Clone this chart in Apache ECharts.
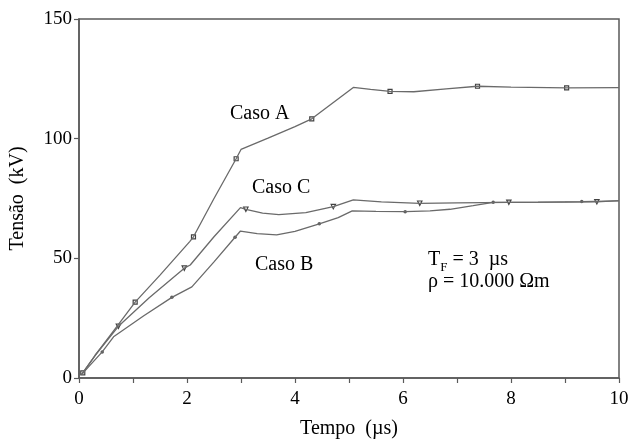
<!DOCTYPE html>
<html>
<head>
    <meta charset='utf-8' />
    <title>Tensão x Tempo</title>
</head>
<body style='margin:0;width: 632px;height:441px;background:#fff;'>
<div id='chart' style='width:632px;height: 441px;'></div>

<script src="https://cdn.jsdelivr.net/npm/echarts@6/dist/echarts.min.js"></script>
<script type='text/javascript'>
    // curva Caso A
    var tA = [0.05, 0.3, 0.7, 1.04, 1.5, 2.05, 2.12, 2.5, 2.91, 3.0, 3.5, 4.0, 4.31, 5.08, 5.4, 5.76, 6.2, 6.8, 7.38, 8.0, 9.03, 10];
    var vA = [1.5, 9.5, 21.5, 31.7, 43, 57, 59, 75, 91.6, 95.5, 100.2, 105, 108.3, 121.4, 120.6, 119.8, 119.6, 120.8, 121.9, 121.5, 121.2, 121.3];
    // curva Caso B
    var tB = [0.05, 0.43, 0.64, 1.2, 1.72, 2.09, 2.5, 2.89, 2.99, 3.3, 3.66, 4.0, 4.45, 4.8, 5.06, 5.5, 6.04, 6.5, 6.87, 7.3, 7.67, 8.5, 9.31, 10];
    var vB = [1.5, 10.9, 17.2, 26, 33.7, 38.1, 48.5, 58.8, 61.4, 60.3, 59.8, 61.3, 64.4, 67, 69.8, 69.6, 69.5, 69.8, 70.5, 72, 73.4, 73.5, 73.7, 74];
    // curva Caso C
    var tC = [0.05, 0.3, 0.73, 1.3, 1.95, 2.06, 2.5, 2.99, 3.09, 3.4, 3.7, 4.2, 4.71, 5.08, 5.6, 6.31, 7.0, 7.96, 9.0, 9.59, 10];
    var vC = [1.5, 9.5, 21.6, 33.5, 45.9, 47.2, 59, 71.2, 70.5, 68.9, 68.3, 69.1, 71.6, 74.4, 73.6, 73.0, 73.2, 73.4, 73.5, 73.6, 74.1];

    // marcadores
    var mkA_t = [0.07, 1.04, 2.12, 2.91, 4.31, 5.76, 7.38, 9.03];
    var mkA_v = [2.1, 31.7, 59, 91.6, 108.3, 119.8, 121.9, 121.2];
    var mkB_t = [0.43, 1.72, 2.89, 4.45, 6.04, 7.67, 9.31];
    var mkB_v = [10.9, 33.7, 58.8, 64.4, 69.5, 73.4, 73.7];
    var mkC_t = [0.73, 1.95, 3.09, 4.71, 6.31, 7.96, 9.59];
    var mkC_v = [21.6, 45.9, 70.5, 71.6, 73.0, 73.4, 73.6];

    function pares(t, v) {
        return t.map(function (x, i) { return [x, v[i]]; });
    }

    var fonte = 'Liberation Serif';
    var cinza = '#5a5a5a';

    var chart = echarts.init(document.getElementById('chart'));

    var linha = { color: '#6a6a6a', width: 1.3 };

    var option = {
        animation: false,
        backgroundColor: '#fff',
        grid: {
            left: 79, right: 13, top: 19, bottom: 63,
            containLabel: false, outerBoundsMode: 'none',
            show: true, borderColor: cinza, borderWidth: 1.5
        },
        xAxis: {
            type: 'value', min: 0, max: 10, interval: 1,
            name: 'Tempo  (µs)', nameLocation: 'middle', nameGap: 41,
            nameTextStyle: { fontFamily: fonte, fontSize: 20, color: '#000' },
            axisLine: { lineStyle: { color: cinza, width: 1.5 } },
            axisTick: { show: true, inside: false, length: 5, lineStyle: { color: cinza, width: 1.2 } },
            axisLabel: {
                fontFamily: fonte, fontSize: 19, color: '#000', margin: 12,
                formatter: function (v) { return v % 2 === 0 ? String(v) : ''; }
            },
            splitLine: { show: false }
        },
        yAxis: {
            type: 'value', min: 0, max: 150, interval: 50,
            name: 'Tensão  (kV)', nameLocation: 'middle', nameGap: 51,
            nameTextStyle: { fontFamily: fonte, fontSize: 20, color: '#000' },
            axisLine: { show: true, lineStyle: { color: cinza, width: 1.5 } },
            axisTick: { show: true, inside: false, length: 5, lineStyle: { color: cinza, width: 1.2 } },
            axisLabel: { fontFamily: fonte, fontSize: 19, color: '#000', margin: 7 },
            splitLine: { show: false }
        },
        series: [
            { name: 'Caso A', type: 'line', data: pares(tA, vA), showSymbol: false, lineStyle: linha },
            { name: 'Caso B', type: 'line', data: pares(tB, vB), showSymbol: false, lineStyle: linha },
            { name: 'Caso C', type: 'line', data: pares(tC, vC), showSymbol: false, lineStyle: linha },
            {
                type: 'scatter', data: pares(mkA_t, mkA_v), symbol: 'rect', symbolSize: 4,
                itemStyle: { color: '#fff', borderColor: '#111', borderWidth: 1.2 }
            },
            {
                type: 'scatter', data: pares(mkB_t, mkB_v), symbol: 'circle', symbolSize: 3.5,
                itemStyle: { color: '#333' }
            },
            {
                type: 'scatter', data: pares(mkC_t, mkC_v), symbol: 'triangle', symbolSize: 4.5, symbolRotate: 180,
                itemStyle: { color: '#fff', borderColor: '#111', borderWidth: 1.1 }
            }
        ],
        graphic: [
            { type: 'text', left: 230, top: 104, style: { text: 'Caso A', font: '20px ' + fonte, fill: '#000' } },
            { type: 'text', left: 252, top: 178, style: { text: 'Caso C', font: '20px ' + fonte, fill: '#000' } },
            { type: 'text', left: 255, top: 255, style: { text: 'Caso B', font: '20px ' + fonte, fill: '#000' } },
            {
                type: 'text', left: 428, top: 250,
                style: {
                    text: '{t|T}{s|F}{t| = 3  µs}',
                    fill: '#000',
                    rich: {
                        t: { fontFamily: fonte, fontSize: 20, lineHeight: 22, verticalAlign: 'bottom' },
                        s: { fontFamily: fonte, fontSize: 13, lineHeight: 22, verticalAlign: 'bottom', padding: [0, 0, -4, 0] }
                    }
                }
            },
            { type: 'text', left: 428, top: 272, style: { text: 'ρ = 10.000 Ωm', font: '20px ' + fonte, fill: '#000' } }
        ]
    };

    chart.setOption(option);
</script>
</body>
</html>
